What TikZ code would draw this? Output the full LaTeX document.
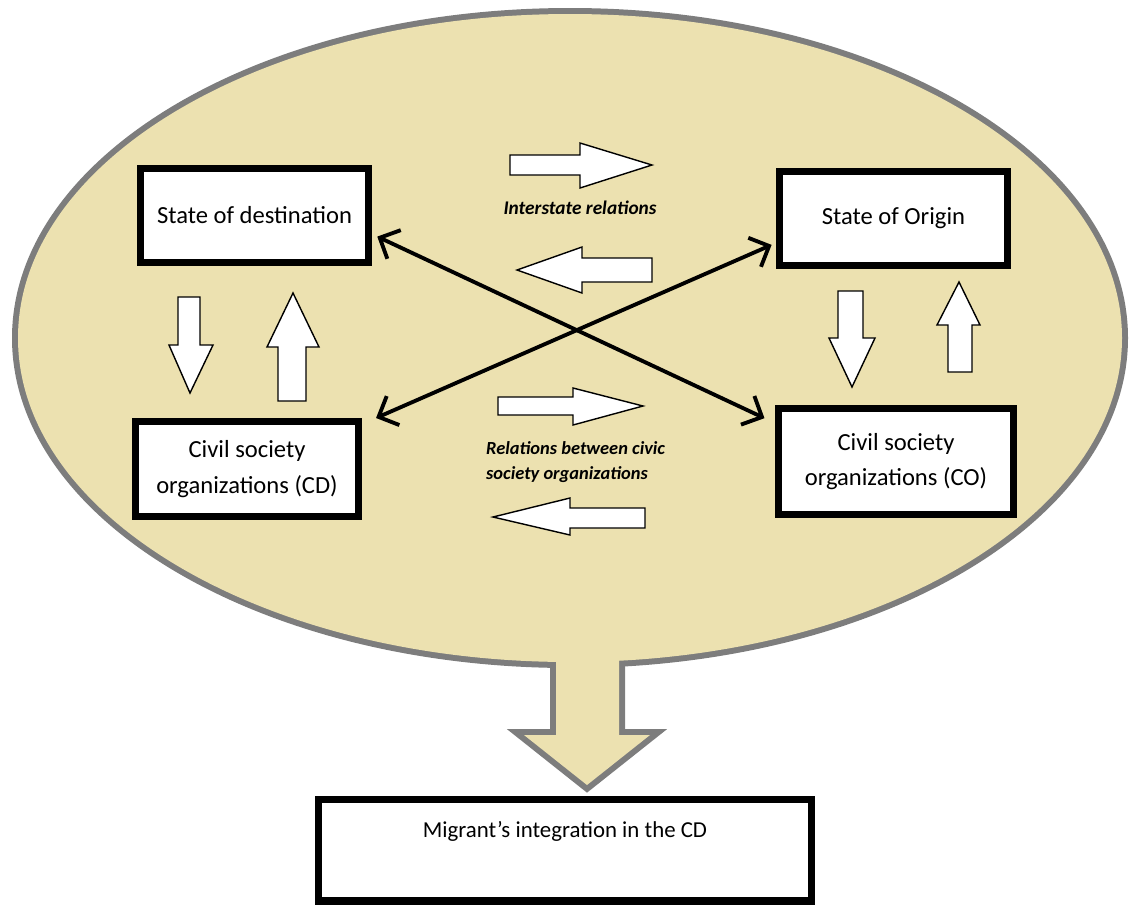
\documentclass[tikz,border=0pt]{standalone}
\usepackage{fontspec}
\setmainfont{Carlito}
\usetikzlibrary{arrows.meta}
\definecolor{sand}{RGB}{236,225,176}
\definecolor{rim}{RGB}{125,125,125}
\begin{document}
\begin{tikzpicture}[x=0.02cm,y=-0.02cm,
  box/.style={draw, line width=4pt, fill=white, inner sep=0pt, align=center, font=\fontsize{14}{20}\selectfont},
  fat/.style={draw, line width=0.8pt, fill=white, miter limit=20},
  cross/.style={line width=2.2pt, {Straight Barb[length=9pt,width=18pt]}-{Straight Barb[length=9pt,width=18pt]}},
  note/.style={font=\fontsize{10.5}{14}\selectfont\bfseries\itshape}]
\useasboundingbox (0,0) rectangle (1129,904);
\draw[rim, line width=0.24cm] (570,338) ellipse [x radius=552, y radius=324];
\draw[rim, line width=0.24cm, miter limit=20] (556,600) -- (556,735) -- (524,735) -- (587,785) -- (650,735) -- (619,735) -- (619,600) -- cycle;
\fill[sand] (570,338) ellipse [x radius=552, y radius=324];
\fill[sand] (556,600) -- (556,735) -- (524,735) -- (587,785) -- (650,735) -- (619,735) -- (619,600) -- cycle;
\node[box, minimum width=4.56cm, minimum height=1.88cm] (sd) at (254.5,215.5) {State of destination};
\node[box, minimum width=4.56cm, minimum height=1.88cm] (so) at (893.5,218.5) {State of Origin};
\node[box, minimum width=4.46cm, minimum height=1.9cm] (cd) at (247,469) {Civil society\\organizations (CD)};
\node[box, minimum width=4.7cm, minimum height=2.12cm] (co) at (896,461.5) {Civil society\\organizations (CO)};
\node[box, minimum width=9.86cm, text height=0.77cm, text depth=1.27cm, font=\fontsize{13}{16}\selectfont] (mi) at (565,850) {Migrant’s integration in the CD};
\draw[fat] (510,155) -- (580,155) -- (580,143) -- (652,165) -- (580,188) -- (580,175) -- (510,175) -- cycle;
\draw[fat] (652,258) -- (582,258) -- (582,247) -- (517,270) -- (582,293) -- (582,282) -- (652,282) -- cycle;
\draw[fat] (498,397) -- (573,397) -- (573,388) -- (643,406) -- (573,425) -- (573,415) -- (498,415) -- cycle;
\draw[fat] (645,508) -- (570,508) -- (570,498) -- (493,517) -- (570,535) -- (570,528) -- (645,528) -- cycle;
\draw[fat] (178,297) -- (200,297) -- (200,345) -- (213,345) -- (190,393) -- (169,345) -- (178,345) -- cycle;
\draw[fat] (278,401) -- (278,347) -- (267,347) -- (293,293) -- (319,347) -- (306,347) -- (306,401) -- cycle;
\draw[fat] (838,291) -- (863,291) -- (863,338) -- (875,338) -- (852,387) -- (829,338) -- (838,338) -- cycle;
\draw[fat] (948,372) -- (948,325) -- (937,325) -- (959,282) -- (980,325) -- (972,325) -- (972,372) -- cycle;
\node[note, font=\fontsize{11}{14}\selectfont\bfseries\itshape] (inter) at (580,208) {Interstate relations};
\node[note, anchor=west, align=left] (civic) at (480,462) {Relations between civic\\society organizations};
\draw[cross] ([xshift=3pt,yshift=-12pt]sd.east) -- ([xshift=-6pt,yshift=-7.5pt]co.north west);
\draw[cross] ([xshift=8pt]cd.north east) -- ([xshift=-2.5pt,yshift=-15pt]so.west);
\end{tikzpicture}
\end{document}
